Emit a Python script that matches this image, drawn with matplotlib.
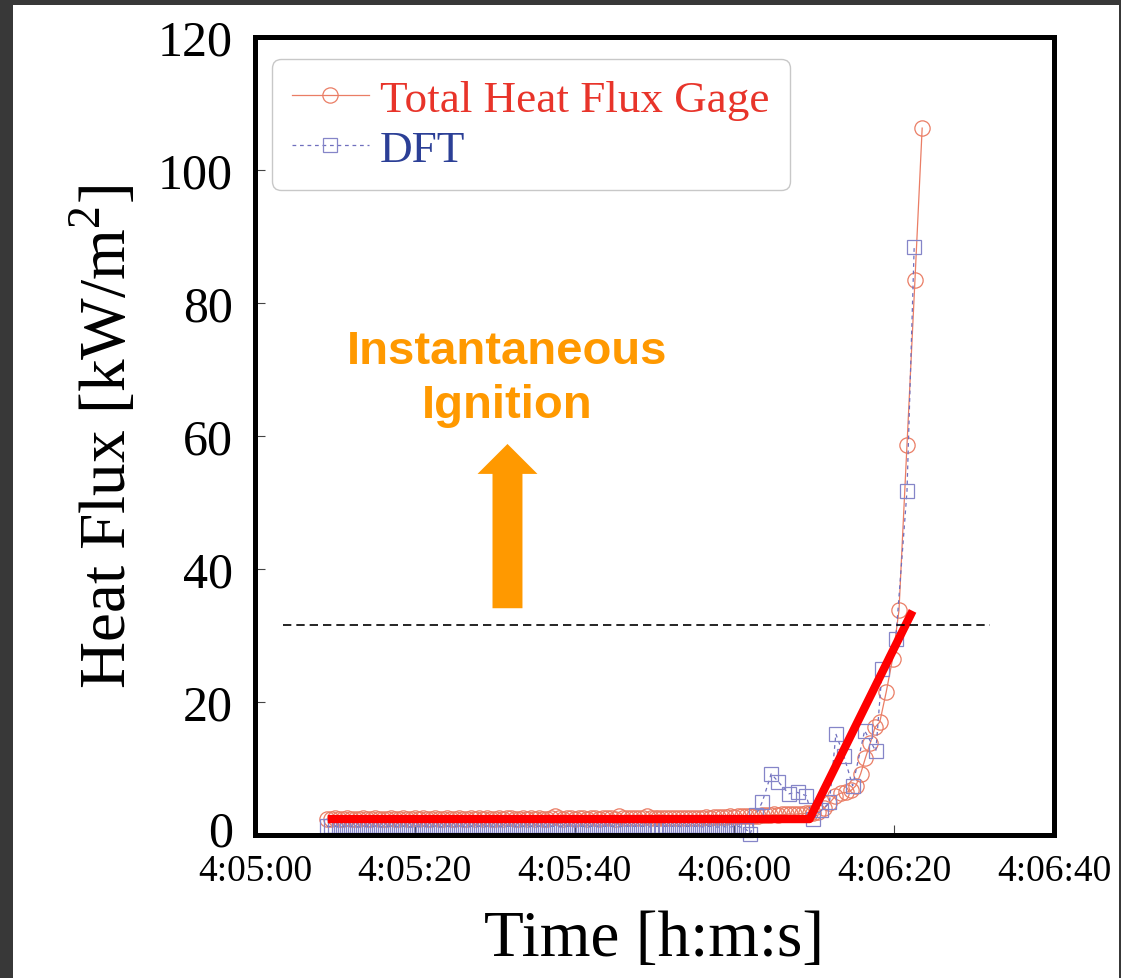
import numpy as np
import matplotlib
matplotlib.use('Agg')
import matplotlib.pyplot as plt
from matplotlib.patches import FancyArrow, Rectangle
from matplotlib.transforms import ScaledTranslation

# time in seconds after 4:05:00
tick_secs = [0, 20, 40, 60, 80, 100]
tick_labels = ['4:05:00', '4:05:20', '4:05:40', '4:06:00', '4:06:20', '4:06:40']
y_ticks = [0, 20, 40, 60, 80, 100, 120]

# total heat flux gage, flat part sampled every 0.5 s from t = 9 s
gage_t0 = 9.0
gage_dt = 0.5
gage_flat = [
    2.4, 2.4, 2.5, 2.4, 2.4, 2.5, 2.4, 2.4, 2.4, 2.5, 2.4, 2.4, 2.5, 2.4, 2.4, 2.4, 2.5, 2.4, 2.4, 2.5,
    2.4, 2.4, 2.5, 2.4, 2.5, 2.4, 2.4, 2.5, 2.4, 2.4, 2.5, 2.4, 2.4, 2.5, 2.4, 2.4, 2.5, 2.4, 2.5, 2.4,
    2.5, 2.4, 2.4, 2.5, 2.4, 2.5, 2.5, 2.4, 2.4, 2.5, 2.4, 2.5, 2.4, 2.5, 2.4, 2.4, 2.5, 2.8, 2.5, 2.4,
    2.5, 2.5, 2.4, 2.5, 2.5, 2.4, 2.5, 2.5, 2.4, 2.5, 2.5, 2.5, 2.4, 2.8, 2.5, 2.6, 2.5, 2.5, 2.5, 2.5,
    2.8, 2.6, 2.5, 2.5, 2.6, 2.5, 2.6, 2.5, 2.6, 2.6, 2.5, 2.6, 2.6, 2.6, 2.6, 2.7, 2.6, 2.7, 2.7, 2.7,
    2.7, 2.8, 2.7, 2.8, 2.8, 2.9, 2.8, 2.9, 2.9, 3.0, 3.0, 3.0, 3.1, 3.0, 3.1, 3.1, 3.2, 3.1, 3.2, 3.2,
    3.3, 3.3,
]
gage_rise_t = [69.8, 70.5, 71.2, 71.9, 72.6, 73.3, 74.0, 74.6, 75.2, 75.8, 76.4, 77.0, 77.6, 78.2,
               79.0, 79.8, 80.6, 81.6, 82.6, 83.5]
gage_rise = [3.3, 3.5, 4.0, 4.8, 5.8, 6.3, 6.4, 6.7, 7.4, 9.2, 11.6, 13.8, 16.2, 17.0,
             21.5, 26.5, 33.8, 58.6, 83.5, 106.3]

# DFT, flat part sampled every 0.5 s from t = 9 s
dft_t0 = 9.0
dft_dt = 0.5
dft_flat = [
    1.3, 1.3, 1.3, 1.2, 1.3, 1.3, 1.3, 1.3, 1.2, 1.3, 1.3, 1.3, 1.3, 1.3, 1.2, 1.3, 1.3, 1.3, 1.3, 1.3,
    1.3, 1.2, 1.3, 1.3, 1.3, 1.3, 1.3, 1.3, 1.2, 1.3, 1.3, 1.3, 1.3, 1.3, 1.3, 1.2, 1.3, 1.3, 1.3, 1.3,
    1.3, 1.3, 1.3, 1.2, 1.3, 1.3, 1.3, 1.3, 1.3, 1.3, 1.2, 1.3, 1.3, 1.3, 1.3, 1.3, 1.3, 1.3, 1.2, 1.3,
    1.3, 1.3, 1.3, 1.3, 1.3, 1.2, 1.3, 1.3, 1.3, 1.3, 1.3, 1.3, 1.3, 1.2, 1.3, 1.3, 1.3, 1.3, 1.3, 1.3,
    1.3, 1.2, 1.3, 1.3, 1.3, 1.3, 1.3, 1.3, 1.3, 1.2, 1.3, 1.3, 1.3, 1.3, 1.2, 1.3, 1.3, 1.2, 1.2, 1.3,
    1.2, 1.2, 1.3,
]
dft_rise_t = [60.5, 61.0, 61.5, 62.0, 62.7, 63.5, 64.6, 65.5, 66.8, 67.9, 69.0, 69.8, 70.9, 71.9,
              72.7, 73.7, 74.8, 76.3, 77.7, 78.5, 80.2, 81.6, 82.5]
dft_rise = [1.3, 1.1, 0.8, 0.2, 3.0, 5.0, 9.2, 8.0, 6.2, 6.4, 5.9, 2.4, 3.7, 4.9,
            15.2, 11.9, 7.4, 15.7, 12.6, 25.0, 29.5, 51.7, 88.4]

# red piecewise fit and ignition threshold
fit_t = [9.1, 69.4, 82.3]
fit_v = [2.4, 2.4, 33.7]
threshold = 31.6
threshold_span = [3.5, 92.0]

gage_t = np.concatenate([gage_t0 + gage_dt * np.arange(len(gage_flat)), gage_rise_t])
gage_v = np.concatenate([gage_flat, gage_rise])
dft_t = np.concatenate([dft_t0 + dft_dt * np.arange(len(dft_flat)), dft_rise_t])
dft_v = np.concatenate([dft_flat, dft_rise])

plt.rcParams['font.family'] = ['Liberation Serif', 'DejaVu Serif']
plt.rcParams['mathtext.fontset'] = 'custom'
plt.rcParams['mathtext.rm'] = 'Liberation Serif'

fig = plt.figure(figsize=(11.21, 9.79), dpi=100, facecolor='#383838')
fig.add_artist(Rectangle((13 / 1121, 0), 1106 / 1121, 973 / 979, transform=fig.transFigure,
                         facecolor='white', edgecolor='none', zorder=-10))

ax = fig.add_axes([255 / 1121, 143 / 979, 799 / 1121, 798 / 979])

gage_col = '#ea7d65'
dft_col = '#6f6fbe'
ax.plot(gage_t, gage_v, color=gage_col, lw=0.9, marker='o', ms=11, mfc='none',
        mec=gage_col, mew=0.9, label='Total Heat Flux Gage', clip_on=False, zorder=2)
ax.plot(dft_t, dft_v, color=dft_col, lw=0.9, dashes=(3, 3), marker='s', ms=10.5, mfc='none',
        mec='#8585c8', mew=0.9, label='DFT', clip_on=False, zorder=2)

ax.plot(fit_t, fit_v, color='#ff0000', lw=6, solid_capstyle='butt', zorder=4)
ax.plot(threshold_span, [threshold, threshold], color='black', lw=1.2, dashes=(5, 3),
        clip_on=False, zorder=4)

ax.add_patch(FancyArrow(31.6, 34.1, 0, 24.7, width=3.75, head_width=7.5, head_length=4.5,
                        length_includes_head=True, color='#ff9900', lw=0, zorder=5))
ax.text(31.6, 68.7, 'Instantaneous\nIgnition', ha='center', va='center', color='#ff9900',
        fontsize=34, fontweight='bold', family=['Liberation Sans', 'DejaVu Sans'],
        linespacing=1.3, zorder=5)

ax.set_xlim(0, 100)
ax.set_ylim(0, 120)
ax.set_xticks(tick_secs)
ax.set_xticklabels(tick_labels)
ax.set_yticks(y_ticks)
ax.tick_params(axis='x', direction='in', length=7, width=0.8, labelsize=27, pad=13,
               top=False, color='#444444')
ax.tick_params(axis='y', direction='in', length=7, width=0.8, labelsize=36, pad=16,
               right=False, color='#444444')
for s in ax.spines.values():
    s.set_linewidth(3.6)
    s.set_color('black')

# lift the "0" label a little so it clears the first time label
fig.canvas.draw()
zero_lbl = ax.get_yticklabels()[0]
zero_lbl.set_transform(zero_lbl.get_transform() + ScaledTranslation(0, 7 / 100, fig.dpi_scale_trans))

leg = ax.legend(loc='upper left', bbox_to_anchor=(0.021, 0.972), borderaxespad=0,
                fontsize=32.5, numpoints=1, handlelength=1.7, handletextpad=0.25,
                labelspacing=0.2, borderpad=0.45, fancybox=True, framealpha=1,
                edgecolor='#c8c8c8')
leg.get_frame().set_linewidth(1.0)
leg.get_texts()[0].set_color('#e8342a')
leg.get_texts()[1].set_color('#2b3f96')

fig.text(105 / 1121, 1 - 437 / 979, 'Heat Flux [kW/m$^{\\mathrm{2}}$]', rotation=90,
         ha='center', va='center', fontsize=47)
fig.text(654 / 1121, 1 - 940 / 979, 'Time [h:m:s]', ha='center', va='center', fontsize=47)

fig.savefig('out.png', dpi=100, facecolor=fig.get_facecolor())
